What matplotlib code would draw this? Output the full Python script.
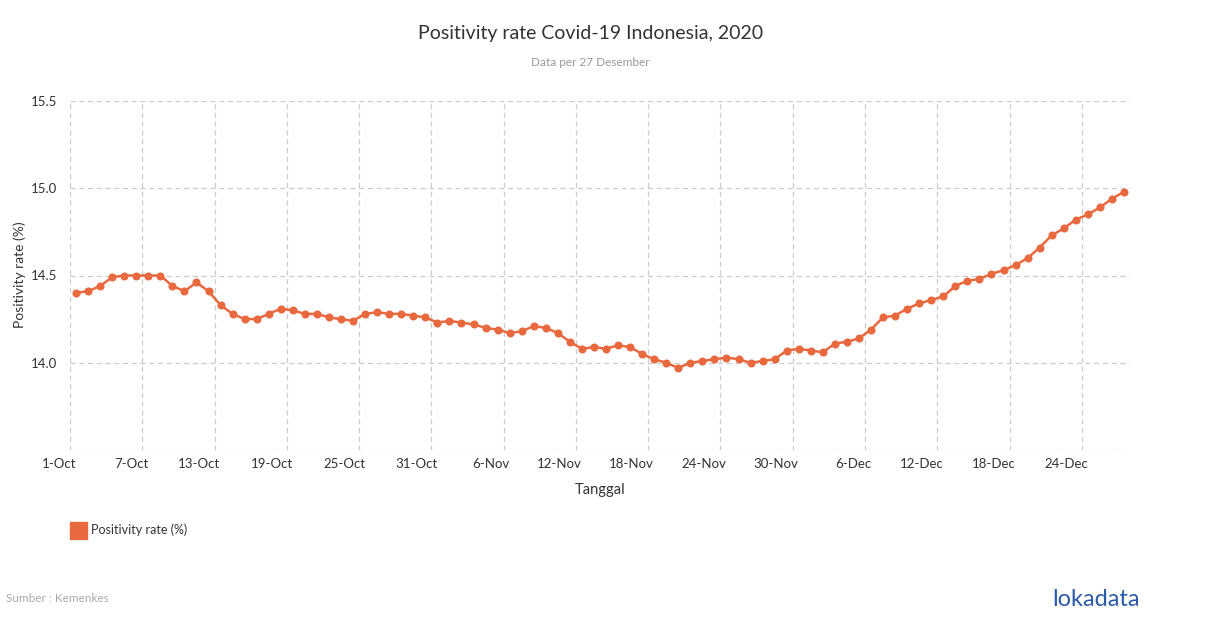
import numpy as np
import pandas as pd
import matplotlib; matplotlib.use("Agg")
import matplotlib.pyplot as plt
from matplotlib.patches import Rectangle

plt.rcParams["font.family"] = ["Lato", "DejaVu Sans"]

dates = pd.date_range("2020-10-01", "2020-12-27", freq="D")
rate = [14.40, 14.41, 14.44, 14.49, 14.50, 14.50, 14.50, 14.50, 14.44, 14.41,
        14.46, 14.41, 14.33, 14.28, 14.25, 14.25, 14.28, 14.31, 14.30, 14.28,
        14.28, 14.26, 14.25, 14.24, 14.28, 14.29, 14.28, 14.28, 14.27, 14.26,
        14.23, 14.24, 14.23, 14.22, 14.20, 14.19, 14.17, 14.18, 14.21, 14.20,
        14.17, 14.12, 14.08, 14.09, 14.08, 14.10, 14.09, 14.05, 14.02, 14.00,
        13.97, 14.00, 14.01, 14.02, 14.03, 14.02, 14.00, 14.01, 14.02, 14.07,
        14.08, 14.07, 14.06, 14.11, 14.12, 14.14, 14.19, 14.26, 14.27, 14.31,
        14.34, 14.36, 14.38, 14.44, 14.47, 14.48, 14.51, 14.53, 14.56, 14.60,
        14.66, 14.73, 14.77, 14.82, 14.85, 14.89, 14.94, 14.98]
yticks = [14.0, 14.5, 15.0, 15.5]
labels = [f"{d.day}-{d.strftime('%b')}" for d in dates]

ORANGE = "#e8693e"; GRID = "#cccccc"; TXT = "#333333"
fig = plt.figure(figsize=(12.1, 6.28), dpi=100)
ax = fig.add_axes([70/1210, 1-450/628, 1060/1210, 349/628])
x = np.arange(len(rate))
ax.plot(x, rate, color=ORANGE, lw=1.8, marker="o", ms=4.8, zorder=3)
ax.set_xlim(-0.5, len(rate)-0.5); ax.set_ylim(13.5, 15.5)
ax.set_yticks(yticks); ax.set_yticklabels([f"{v:.1f}" for v in yticks])
for v in [13.5]+yticks: ax.axhline(v, color=GRID, lw=0.9, ls=(0, (4, 3)), zorder=1)
for k in range(0, len(rate), 6): ax.axvline(k-0.5, color=GRID, lw=0.9, ls=(0, (4, 3)), zorder=1)
ax.set_xticks(range(0, len(rate), 6))
ax.set_xticklabels([labels[k] for k in range(0, len(rate), 6)], ha="right")
ax.tick_params(axis="both", length=0, labelsize=9.5, colors=TXT)
ax.tick_params(axis="x", pad=6); ax.tick_params(axis="y", pad=9)
for s in ax.spines.values(): s.set_visible(False)
ax.set_xlabel("Tanggal", fontsize=10.5, color=TXT, va="center")
ax.xaxis.set_label_coords((600-70)/1060, -(490-450)/349)
ax.set_ylabel("Positivity rate (%)", fontsize=10, color=TXT, va="center")
ax.yaxis.set_label_coords(-(70-20)/1060, (450-275)/349)

fig.text(0.488, 1-33/628, "Positivity rate Covid-19 Indonesia, 2020", ha="center", va="center", fontsize=14, color=TXT)
fig.text(0.488, 1-63/628, "Data per 27 Desember", ha="center", va="center", fontsize=8.5, color="#999999")
fig.patches.append(Rectangle((70/1210, 1-539/628), 17/1210, 17/628, transform=fig.transFigure, color=ORANGE))
fig.text(91/1210, 1-530/628, "Positivity rate (%)", ha="left", va="center", fontsize=9, color=TXT)
fig.text(6/1210, 1-598/628, "Sumber : Kemenkes", ha="left", va="center", fontsize=8.5, color="#aaaaaa")
fig.text(1140/1210, 1-600/628, "lokadata", ha="right", va="center", fontsize=17, color="#2b5ba8")
fig.savefig("out.png", dpi=100)
